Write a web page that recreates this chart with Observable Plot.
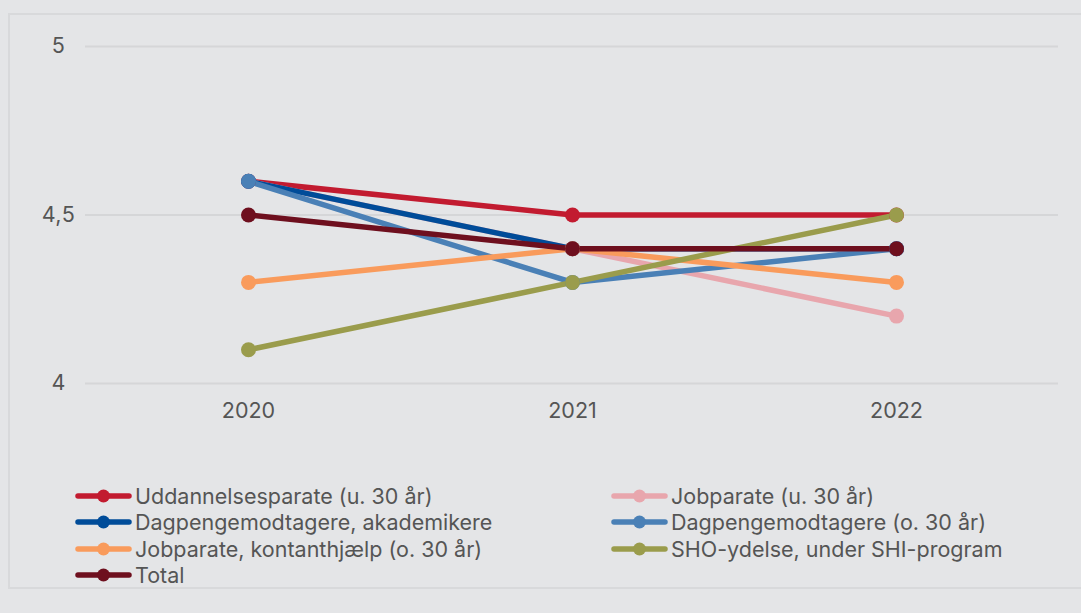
<!DOCTYPE html>
<html><head><meta charset="utf-8">
<script src="https://cdn.jsdelivr.net/npm/d3@7"></script>
<script src="https://cdn.jsdelivr.net/npm/@observablehq/plot@0.6"></script>
<style>
html,body{margin:0;padding:0;background:#e4e5e7;width:1081px;height:613px;overflow:hidden;font-family:Inter,"Noto Sans",sans-serif;}
#frame{position:absolute;left:8px;top:13px;width:1090px;height:576px;border:2px solid #d8d9db;box-sizing:border-box;}
#chart{position:absolute;left:0;top:0;}
#legend{position:absolute;left:75px;top:483px;display:grid;grid-template-columns:536px 420px;row-gap:0;font-size:21.5px;color:#555;}
.item{display:flex;align-items:center;height:26.3px;white-space:nowrap;}
.item svg{margin-right:3px;}
</style></head>
<body>
<div id="frame"></div>
<div id="chart"></div>
<div id="legend"></div>
<script>
const years = ["2020","2021","2022"];
const series = ["Uddannelsesparate (u. 30 år)","Jobparate (u. 30 år)","Dagpengemodtagere, akademikere","Dagpengemodtagere (o. 30 år)","Jobparate, kontanthjælp (o. 30 år)","SHO-ydelse, under SHI-program","Total"];
const colors = ["#c21b30","#e8a6ad","#004c99","#4a80b6","#f99b5c","#9a9c4c","#6e0f1e"];
const uddannelsesparate = [4.6,4.5,4.5];
const jobparateU30 = [4.6,4.4,4.2];
const dagpengeAkademikere = [4.6,4.4,4.4];
const dagpengeO30 = [4.6,4.3,4.4];
const jobparateKontant = [4.3,4.4,4.3];
const shoYdelse = [4.1,4.3,4.5];
const total = [4.5,4.4,4.4];
const yTicks = [4,4.5,5];

const valueArrays = [uddannelsesparate,jobparateU30,dagpengeAkademikere,dagpengeO30,jobparateKontant,shoYdelse,total];
const data = [];
series.forEach((s,i)=>years.forEach((y,j)=>data.push({series:s,year:y,value:valueArrays[i][j]})));

const chart = Plot.plot({
  width:1081, height:440,
  marginLeft:85, marginRight:23, marginTop:46, marginBottom:57,
  style:{background:"transparent",fontFamily:"Inter, 'Noto Sans', sans-serif",fontSize:"21.5px",color:"#555"},
  x:{type:"point",domain:years,padding:0.5},
  y:{domain:[4,5]},
  color:{domain:series,range:colors},
  marks:[
    Plot.gridY(yTicks,{stroke:"#d5d6d8",strokeOpacity:1,strokeWidth:2}),
    Plot.axisY(yTicks,{tickSize:0,tickPadding:27,textAnchor:"middle",tickFormat:d=>String(d).replace(".",","),label:null,fontSize:21.5,fill:"#555"}),
    Plot.axisX({tickSize:0,tickPadding:19,label:null,fontSize:21.5,fill:"#555"}),
    ...series.map((s,i)=>Plot.line(data.filter(d=>d.series===s),{x:"year",y:"value",stroke:colors[i],strokeWidth:5.5,strokeLinecap:"round"})),
    ...series.map((s,i)=>Plot.dot(data.filter(d=>d.series===s),{x:"year",y:"value",fill:colors[i],r:7.5}))
  ]
});
document.getElementById("chart").appendChild(chart);

const leg = document.getElementById("legend");
series.forEach((s,i)=>{
  const d = document.createElement("div");
  d.className="item";
  d.innerHTML = `<svg width="57" height="14"><line x1="3" y1="7" x2="54" y2="7" stroke="${colors[i]}" stroke-width="5.5" stroke-linecap="round"/><circle cx="28.5" cy="7" r="6.5" fill="${colors[i]}"/></svg><span>${s}</span>`;
  leg.appendChild(d);
});
</script>
</body></html>
